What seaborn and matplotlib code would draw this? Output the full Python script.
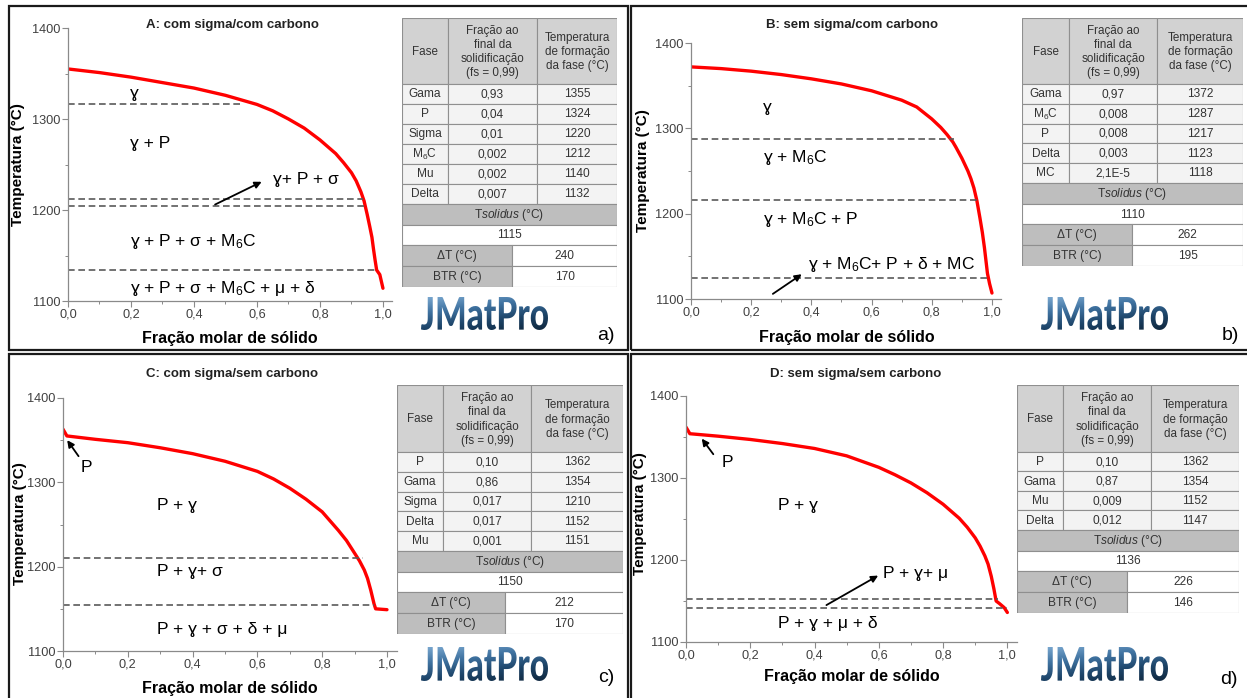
import numpy as np
import matplotlib
matplotlib.use("Agg")
import matplotlib.pyplot as plt
import seaborn as sns
from matplotlib.textpath import TextPath
from matplotlib.patches import PathPatch, Rectangle
from matplotlib.font_manager import FontProperties
from matplotlib.ticker import MultipleLocator
from matplotlib.transforms import Affine2D
from matplotlib.colors import LinearSegmentedColormap

# ---------------- data ----------------
xtick_vals = [0.0, 0.2, 0.4, 0.6, 0.8, 1.0]
xtick_labels = ["0,0", "0,2", "0,4", "0,6", "0,8", "1,0"]
ytick_vals = [1100, 1200, 1300, 1400]

titles = ["A: com sigma/com carbono", "B: sem sigma/com carbono",
          "C: com sigma/sem carbono", "D: sem sigma/sem carbono"]

frac_A = [0.0, 0.1, 0.2, 0.3, 0.4, 0.5, 0.6, 0.65, 0.7, 0.75, 0.8, 0.85, 0.875, 0.9, 0.915,
          0.93, 0.94, 0.95, 0.958, 0.965, 0.97, 0.975, 0.98, 0.99, 1.0]
temp_A = [1355, 1351, 1346, 1340, 1334, 1326, 1316, 1309, 1300, 1290, 1277, 1262, 1252, 1241, 1232,
          1220, 1210, 1195, 1182, 1170, 1157, 1145, 1134, 1129, 1114]

frac_B = [0.0, 0.1, 0.2, 0.3, 0.4, 0.5, 0.6, 0.7, 0.75, 0.8, 0.83, 0.85, 0.87, 0.88, 0.9, 0.92,
          0.93, 0.94, 0.95, 0.96, 0.968, 0.975, 0.985, 0.992, 1.0]
temp_B = [1372, 1370, 1367, 1363, 1358, 1352, 1344, 1333, 1325, 1311, 1301, 1293, 1284, 1278, 1265, 1250,
          1241, 1230, 1215, 1195, 1178, 1160, 1130, 1118, 1107]

frac_C = [0.0, 0.012, 0.1, 0.2, 0.3, 0.4, 0.5, 0.6, 0.65, 0.7, 0.75, 0.8, 0.85, 0.875, 0.9, 0.915,
          0.93, 0.94, 0.95, 0.955, 0.96, 0.965, 1.0]
temp_C = [1363, 1355, 1351, 1347, 1341, 1334, 1325, 1313, 1304, 1293, 1280, 1265, 1243, 1231, 1216, 1207,
          1196, 1186, 1172, 1164, 1156, 1150, 1149]

frac_D = [0.0, 0.012, 0.1, 0.2, 0.3, 0.4, 0.5, 0.6, 0.65, 0.7, 0.75, 0.8, 0.85, 0.875, 0.9, 0.915,
          0.93, 0.94, 0.95, 0.958, 0.965, 0.975, 0.99, 1.0]
temp_D = [1362, 1354, 1351, 1347, 1342, 1336, 1327, 1313, 1304, 1294, 1282, 1268, 1251, 1240, 1227, 1217,
          1205, 1195, 1180, 1165, 1150, 1147, 1142, 1136]

# phase-boundary dashed lines: temperature and fraction where they end
dashT_A = [1317, 1212, 1204, 1134]
dashEnd_A = [0.55, 0.937, 0.94, 0.98]
dashT_B = [1287, 1216, 1125]
dashEnd_B = [0.875, 0.95, 0.995]
dashT_C = [1210, 1154]
dashEnd_C = [0.925, 0.96]
dashT_D = [1152, 1141]
dashEnd_D = [0.97, 1.0]

# phase-region labels (text, x, T)
labels_A = [("ɣ", 0.197, 1328), ("ɣ + P", 0.197, 1273), ("ɣ+ P + σ", 0.652, 1234),
            ("ɣ + P + σ + M$_6$C", 0.197, 1165), ("ɣ + P + σ + M$_6$C + μ + δ", 0.197, 1114)]
labels_B = [("ɣ", 0.24, 1324), ("ɣ + M$_6$C", 0.24, 1266), ("ɣ + M$_6$C + P", 0.24, 1193),
            ("ɣ + M$_6$C+ P + δ + MC", 0.39, 1141)]
labels_C = [("P", 0.055, 1317), ("P + ɣ", 0.289, 1273), ("P + ɣ+ σ", 0.289, 1194),
            ("P + ɣ + σ + δ + μ", 0.289, 1126)]
labels_D = [("P", 0.111, 1319), ("P + ɣ", 0.287, 1266), ("P + ɣ+ μ", 0.613, 1183),
            ("P + ɣ + μ + δ", 0.287, 1122)]

# arrows (x_from, T_from, x_to, T_to)
arrows_A = [(0.467, 1206, 0.615, 1231)]
arrows_B = [(0.272, 1106, 0.368, 1129)]
arrows_C = [(0.048, 1331, 0.013, 1350)]
arrows_D = [(0.085, 1329, 0.049, 1348), (0.437, 1145, 0.598, 1181)]

# tables
tab_phase_A = ["Gama", "P", "Sigma", "M$_6$C", "Mu", "Delta"]
tab_frac_A = ["0,93", "0,04", "0,01", "0,002", "0,002", "0,007"]
tab_temp_A = [1355, 1324, 1220, 1212, 1140, 1132]
tsol_A, dT_A, btr_A = 1115, 240, 170

tab_phase_B = ["Gama", "M$_6$C", "P", "Delta", "MC"]
tab_frac_B = ["0,97", "0,008", "0,008", "0,003", "2,1E-5"]
tab_temp_B = [1372, 1287, 1217, 1123, 1118]
tsol_B, dT_B, btr_B = 1110, 262, 195

tab_phase_C = ["P", "Gama", "Sigma", "Delta", "Mu"]
tab_frac_C = ["0,10", "0,86", "0,017", "0,017", "0,001"]
tab_temp_C = [1362, 1354, 1210, 1152, 1151]
tsol_C, dT_C, btr_C = 1150, 212, 170

tab_phase_D = ["P", "Gama", "Mu", "Delta"]
tab_frac_D = ["0,10", "0,87", "0,009", "0,012"]
tab_temp_D = [1362, 1354, 1152, 1147]
tsol_D, dT_D, btr_D = 1136, 226, 146

header_texts = ["Fase", "Fração ao\nfinal da\nsolidificação\n(fs = 0,99)",
                "Temperatura\nde formação\nda fase (°C)"]
letters = ["a)", "b)", "c)", "d)"]

# ---------------- style ----------------
sns.set_theme(style="white")
FAM = ["Liberation Sans", "DejaVu Sans"]
plt.rcParams["font.family"] = FAM
plt.rcParams["mathtext.fontset"] = "custom"
plt.rcParams["mathtext.rm"] = "Liberation Sans"
plt.rcParams["mathtext.it"] = "Liberation Sans:italic"
plt.rcParams["mathtext.bf"] = "Liberation Sans:bold"
plt.rcParams["mathtext.default"] = "regular"
plt.rcParams["mathtext.fallback"] = "stixsans"

W, H = 1247, 698
fig = plt.figure(figsize=(W / 100, H / 100), dpi=100)
fig.patch.set_facecolor("white")


def add_px_axes(x0, y0, x1, y1):
    return fig.add_axes([x0 / W, 1 - y1 / H, (x1 - x0) / W, (y1 - y0) / H])


def ftext(x, y, s, **kw):
    fig.text(x / W, 1 - y / H, s, **kw)


def draw_plot(box, frac, temp, dashT, dashEnd, labels, arrows, xmax):
    ax = add_px_axes(*box)
    sns.lineplot(x=frac, y=temp, ax=ax, color="#ff0000", lw=2.4, sort=False,
                 estimator=None, legend=False)
    for T, e in zip(dashT, dashEnd):
        ax.hlines(T, 0, e, colors="#5a5a5a", lw=1.2, linestyles=(0, (4, 2.2)))
    for s, x, y in labels:
        ax.text(x, y, s, fontsize=12.5, ha="left", va="center", color="black", family=FAM)
    for x0, y0, x1, y1 in arrows:
        ax.annotate("", xy=(x1, y1), xytext=(x0, y0),
                    arrowprops=dict(arrowstyle="-|>", color="black", lw=1.3,
                                    mutation_scale=10, shrinkA=0, shrinkB=0))
    ax.set_xlim(0, xmax)
    ax.set_ylim(1100, 1400)
    ax.set_xticks(xtick_vals)
    ax.set_xticklabels(xtick_labels)
    ax.set_yticks(ytick_vals)
    ax.set_yticklabels([str(v) for v in ytick_vals])
    ax.xaxis.set_minor_locator(MultipleLocator(0.1))
    ax.yaxis.set_minor_locator(MultipleLocator(50))
    ax.tick_params(which="major", direction="out", length=4, width=0.8, color="#8a8a8a",
                   labelsize=9.2, labelcolor="#404040", pad=1.5, bottom=True, left=True)
    ax.tick_params(which="minor", direction="out", length=2, width=0.7, color="#8a8a8a",
                   bottom=True, left=True)
    for sp in ["top", "right"]:
        ax.spines[sp].set_visible(False)
    for sp in ["left", "bottom"]:
        ax.spines[sp].set_color("#8a8a8a")
        ax.spines[sp].set_linewidth(0.9)
    ax.set_xlabel("")
    ax.set_ylabel("")
    ax.patch.set_alpha(0)
    return ax


def draw_table(x0, y0, x1, y1, c1, c2, hb, split, phases, fracs, temps, tsol, dT, btr):
    ax = add_px_axes(x0, y0, x1, y1)
    ax.set_xlim(x0, x1)
    ax.set_ylim(y1, y0)
    ax.axis("off")
    n = len(phases)
    rb4 = 20.8
    body_end = y1 - 4 * rb4
    rh = (body_end - hb) / n
    ec, lw = "#8f8f8f", 0.8
    hdr, body, dark, white = "#d2d2d2", "#f3f3f3", "#bebebe", "#ffffff"
    tc = "#333333"
    fs = 8.6

    def cell(a, b, c, d, fc):
        ax.add_patch(Rectangle((a, b), c - a, d - b, facecolor=fc, edgecolor=ec, lw=lw))

    cols = [(x0, c1), (c1, c2), (c2, x1)]
    for (a, c), t in zip(cols, header_texts):
        cell(a, y0, c, hb, hdr)
        ax.text((a + c) / 2, (y0 + hb) / 2 + 1, t, ha="center", va="center", fontsize=fs - 0.2,
                color=tc, linespacing=1.25)
    for i in range(n):
        ya, yb = hb + i * rh, hb + (i + 1) * rh
        vals = [phases[i], fracs[i], str(temps[i])]
        for (a, c), v in zip(cols, vals):
            cell(a, ya, c, yb, body)
            ax.text((a + c) / 2, (ya + yb) / 2 + 0.5, v, ha="center", va="center",
                    fontsize=fs, color=tc)
    ya = body_end
    cell(x0, ya, x1, ya + rb4, dark)
    ax.text((x0 + x1) / 2, ya + rb4 / 2 + 0.5, r"T$\mathit{solidus}$ (°C)", ha="center",
            va="center", fontsize=fs, color=tc)
    ya += rb4
    cell(x0, ya, x1, ya + rb4, white)
    ax.text((x0 + x1) / 2, ya + rb4 / 2 + 0.5, str(tsol), ha="center", va="center",
            fontsize=fs, color=tc)
    for lab, v in [("ΔT (°C)", dT), ("BTR (°C)", btr)]:
        ya += rb4
        cell(x0, ya, split, ya + rb4, dark)
        cell(split, ya, x1, ya + rb4, white)
        ax.text((x0 + split) / 2, ya + rb4 / 2 + 0.5, lab, ha="center", va="center",
                fontsize=fs, color=tc)
        ax.text((split + x1) / 2, ya + rb4 / 2 + 0.5, str(v), ha="center", va="center",
                fontsize=fs, color=tc)


logo_cmap = LinearSegmentedColormap.from_list("logo", ["#7aa8d0", "#3f72a0", "#1d4468", "#10283f"])


def draw_logo(x0, y0, x1, y1):
    ax = add_px_axes(x0, y0, x1, y1)
    ax.set_xlim(0, 1)
    ax.set_ylim(0, 1)
    ax.axis("off")
    fp = FontProperties(family=["Lato", "DejaVu Sans"], weight="black")
    tp = TextPath((0, 0), "JMatPro", size=1, prop=fp)
    bb = tp.get_extents()
    path = Affine2D().translate(-bb.x0, -bb.y0).scale(1 / bb.width, 1 / bb.height).transform_path(tp)
    patch = PathPatch(path, facecolor="none", edgecolor="none", transform=ax.transData)
    ax.add_patch(patch)
    gx, gy = np.meshgrid(np.linspace(0, 1, 80), np.linspace(0, 1, 40))
    g = 0.75 * (1 - gy) + 0.35 * gx
    im = ax.imshow(g, extent=(0, 1, 0, 1), origin="lower", cmap=logo_cmap, aspect="auto",
                   vmin=0, vmax=1.1)
    im.set_clip_path(patch)


panels = [
    dict(box=(68, 28, 392.4, 301), data=(frac_A, temp_A, dashT_A, dashEnd_A, labels_A, arrows_A),
         title=(232, 25), ylab=(18, 165), xlab=(230, 339),
         table=(402, 18, 617, 287, 448, 537, 84, 512, tab_phase_A, tab_frac_A, tab_temp_A, tsol_A, dT_A, btr_A),
         logo=(421, 297, 548, 330), letter=(606, 335)),
    dict(box=(691, 43, 1001, 299), data=(frac_B, temp_B, dashT_B, dashEnd_B, labels_B, arrows_B),
         title=(852, 25), ylab=(643, 171), xlab=(847, 338),
         table=(1022, 18, 1243, 266, 1069, 1157, 84, 1132, tab_phase_B, tab_frac_B, tab_temp_B, tsol_B, dT_B, btr_B),
         logo=(1041, 297, 1168, 330), letter=(1230, 335)),
    dict(box=(63, 398, 396.7, 651), data=(frac_C, temp_C, dashT_C, dashEnd_C, labels_C, arrows_C),
         title=(232, 374), ylab=(20, 524), xlab=(230, 688),
         table=(397, 385, 623, 634, 443, 531, 452, 505, tab_phase_C, tab_frac_C, tab_temp_C, tsol_C, dT_C, btr_C),
         logo=(421, 647, 548, 681), letter=(606, 678)),
    dict(box=(686, 396, 1017, 642), data=(frac_D, temp_D, dashT_D, dashEnd_D, labels_D, arrows_D),
         title=(856, 374), ylab=(640, 514), xlab=(852, 677),
         table=(1017, 385, 1239, 613, 1063, 1151, 452, 1127, tab_phase_D, tab_frac_D, tab_temp_D, tsol_D, dT_D, btr_D),
         logo=(1041, 647, 1168, 681), letter=(1229, 680)),
]

for p, t, lt in zip(panels, titles, letters):
    draw_plot(p["box"], *p["data"], xmax=1.03)
    ftext(*p["title"], t, ha="center", va="center", fontsize=9.5, fontweight="bold",
          color="#222222")
    ftext(*p["ylab"], "Temperatura (°C)", ha="center", va="center", rotation=90,
          fontsize=11, fontweight="bold", color="black")
    ftext(*p["xlab"], "Fração molar de sólido", ha="center", va="center",
          fontsize=11.5, fontweight="bold", color="black")
    draw_table(*p["table"])
    draw_logo(*p["logo"])
    ftext(*p["letter"], lt, ha="center", va="center", fontsize=14, color="black")

# panel frames
for (a, b, c, d) in [(9, 6, 628, 350), (631, 6, 1252, 350), (9, 354, 628, 702), (631, 354, 1252, 702)]:
    fig.add_artist(Rectangle((a / W, 1 - d / H), (c - a) / W, (d - b) / H, transform=fig.transFigure,
                             facecolor="none", edgecolor="#1a1a1a", lw=1.6))

fig.savefig("out.png", dpi=100, facecolor="white")
